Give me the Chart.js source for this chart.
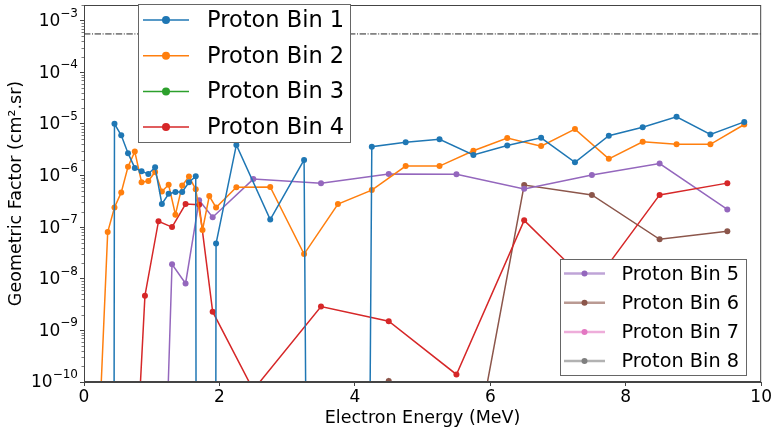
<!DOCTYPE html>
<html>
<head>
<meta charset="utf-8">
<script src="https://cdn.jsdelivr.net/npm/chart.js@4"></script>
<style>
  html, body { margin: 0; padding: 0; background: #fff; }
  canvas { display: block; }
</style>
</head>
<body>
<canvas id="chart" width="773" height="429"></canvas>
<script>
// values below this never show on the log axis (they stand in for zero)
const ZERO = 1e-100;

// bins 1-3 are sampled on the 0.1 / 0.5 MeV grid
const energyA = [0.05, 0.15, 0.25, 0.35, 0.45, 0.55, 0.65, 0.75, 0.85, 0.95,
  1.05, 1.15, 1.25, 1.35, 1.45, 1.55, 1.65, 1.75, 1.85, 1.95,
  2.25, 2.75, 3.25, 3.75, 4.25, 4.75, 5.25, 5.75, 6.25, 6.75, 7.25, 7.75, 8.25, 8.75, 9.25, 9.75];
// bins 4-8 are sampled on the 0.2 / 1 MeV grid
const energyB = [0.1, 0.3, 0.5, 0.7, 0.9, 1.1, 1.3, 1.5, 1.7, 1.9,
  2.5, 3.5, 4.5, 5.5, 6.5, 7.5, 8.5, 9.5];

const bin1 = [ZERO, ZERO, ZERO, ZERO, 1.0e-5, 6.0e-6, 2.7e-6, 1.4e-6, 1.2e-6, 1.07e-6,
  1.44e-6, 2.8e-7, 4.4e-7, 4.8e-7, 4.8e-7, 7.4e-7, 9.6e-7, ZERO, ZERO, 4.8e-8,
  3.9e-6, 1.4e-7, 2.0e-6, ZERO, 3.6e-6, 4.4e-6, 5.0e-6, 2.5e-6, 3.8e-6, 5.35e-6,
  1.8e-6, 5.9e-6, 8.6e-6, 1.37e-5, 6.2e-6, 1.09e-5];
const bin2 = [ZERO, ZERO, 7e-11, 8.0e-8, 2.4e-7, 4.7e-7, 1.47e-6, 2.9e-6, 7.4e-7, 7.8e-7,
  1.17e-6, 4.9e-7, 6.6e-7, 1.74e-7, 6.4e-7, 9.5e-7, 5.4e-7, 8.8e-8, 4.0e-7, 2.4e-7,
  5.9e-7, 6.0e-7, 3.0e-8, 2.8e-7, 5.2e-7, 1.52e-6, 1.52e-6, 3.0e-6, 5.3e-6, 3.7e-6,
  7.9e-6, 2.1e-6, 4.5e-6, 4.0e-6, 4.0e-6, 9.7e-6];
const bin3 = energyA.map(() => ZERO);
const bin4 = [ZERO, ZERO, ZERO, 4e-14, 4.7e-9, 1.3e-7, 1.0e-7, 2.8e-7, 2.7e-7, 2.3e-9,
  7e-11, 2.9e-9, 1.5e-9, 1.4e-10, 1.35e-7, 7e-9, 4.2e-7, 7.1e-7];
const bin5 = [ZERO, ZERO, ZERO, ZERO, ZERO, 1e-16, 1.9e-8, 8.1e-9, 3.3e-7, 1.55e-7,
  8.5e-7, 7.1e-7, 1.07e-6, 1.06e-6, 5.5e-7, 1.02e-6, 1.7e-6, 2.2e-7];
const bin6 = [ZERO, ZERO, ZERO, ZERO, ZERO, ZERO, ZERO, ZERO, ZERO, ZERO,
  ZERO, ZERO, 1.05e-10, 6e-14, 6.5e-7, 4.2e-7, 5.8e-8, 8.3e-8];
const bin7 = energyB.map(() => ZERO);
const bin8 = energyB.map(() => ZERO);

const binLabels = ['Proton Bin 1', 'Proton Bin 2', 'Proton Bin 3', 'Proton Bin 4',
  'Proton Bin 5', 'Proton Bin 6', 'Proton Bin 7', 'Proton Bin 8'];
const binColors = ['#1f77b4', '#ff7f0e', '#2ca02c', '#d62728',
  '#9467bd', '#8c564b', '#e377c2', '#7f7f7f'];

const limitValue = 5.5e-4;
const xTicks = [0, 2, 4, 6, 8, 10];
const yTicks = [1e-10, 1e-9, 1e-8, 1e-7, 1e-6, 1e-5, 1e-4, 1e-3];
const yExponents = ['−10', '−9', '−8', '−7', '−6', '−5', '−4', '−3'];

const toPoints = (xs, ys) => xs.map((x, i) => ({ x: x, y: ys[i] }));

const series = [
  [energyA, bin1], [energyA, bin2], [energyA, bin3], [energyB, bin4],
  [energyB, bin5], [energyB, bin6], [energyB, bin7], [energyB, bin8]
];

const datasets = series.map(([xs, ys], i) => ({
  label: binLabels[i],
  data: toPoints(xs, ys),
  borderColor: binColors[i],
  backgroundColor: binColors[i],
  borderWidth: 1.5,
  pointRadius: 3,
  pointBorderWidth: 0,
  pointHoverRadius: 3,
  tension: 0
}));

datasets.push({
  label: 'limit',
  data: [{ x: 0, y: limitValue }, { x: 10, y: limitValue }],
  borderColor: '#222',
  borderWidth: 1,
  borderDash: [6.4, 1.6, 1, 1.6],
  pointRadius: 0
});

const FONT = 'DejaVu Sans';

// frame, minor ticks and the 10^n labels
const axesExtras = {
  id: 'axesExtras',
  afterDatasetsDraw(chart) {
    const { ctx, chartArea: a } = chart;
    const y = chart.scales.y;
    ctx.save();
    ctx.strokeStyle = '#444';
    ctx.lineWidth = 1;
    ctx.strokeRect(a.left + 0.5, a.top + 0.5, a.right - a.left - 1, a.bottom - a.top - 1);

    ctx.beginPath();
    for (let d = -10; d <= -3; d++) {
      for (let k = 2; k <= 9; k++) {
        const v = k * Math.pow(10, d);
        if (v > y.max) continue;
        const py = Math.round(y.getPixelForValue(v)) + 0.5;
        ctx.moveTo(a.left - 2.5, py);
        ctx.lineTo(a.left, py);
      }
    }
    ctx.lineWidth = 0.7;
    ctx.stroke();

    ctx.fillStyle = '#000';
    ctx.textBaseline = 'middle';
    yTicks.forEach((v, i) => {
      const py = y.getPixelForValue(v);
      ctx.font = '12px "' + FONT + '"';
      const ew = ctx.measureText(yExponents[i]).width;
      const right = a.left - 6;
      ctx.textAlign = 'right';
      ctx.fillText(yExponents[i], right, py - 7);
      ctx.font = '17px "' + FONT + '"';
      ctx.fillText('10', right - ew, py + 1);
    });
    ctx.restore();
  }
};

function drawLegend(ctx, items, box, opts) {
  ctx.save();
  ctx.fillStyle = '#fff';
  ctx.fillRect(box.x, box.y, box.w, box.h);
  ctx.strokeStyle = '#666';
  ctx.lineWidth = 1;
  ctx.strokeRect(box.x + 0.5, box.y + 0.5, box.w - 1, box.h - 1);
  ctx.font = opts.size + 'px "' + FONT + '"';
  ctx.textBaseline = 'middle';
  ctx.textAlign = 'left';
  items.forEach((idx, r) => {
    const cy = opts.firstRow + r * opts.rowGap;
    ctx.strokeStyle = binColors[idx];
    ctx.globalAlpha = opts.alpha;
    ctx.lineWidth = opts.lineWidth;
    ctx.beginPath();
    ctx.moveTo(opts.handleX0, cy);
    ctx.lineTo(opts.handleX1, cy);
    ctx.stroke();
    ctx.globalAlpha = 1;
    ctx.fillStyle = binColors[idx];
    ctx.beginPath();
    ctx.arc((opts.handleX0 + opts.handleX1) / 2, cy, opts.marker, 0, Math.PI * 2);
    ctx.fill();
    ctx.fillStyle = '#000';
    ctx.fillText(binLabels[idx], opts.textX, cy + 1);
  });
  ctx.restore();
}

const legends = {
  id: 'legends',
  afterDraw(chart) {
    const ctx = chart.ctx;
    drawLegend(ctx, [0, 1, 2, 3], { x: 138, y: 4, w: 213, h: 139 },
      { size: 22.5, firstRow: 20, rowGap: 35.7, handleX0: 143, handleX1: 189,
        textX: 207, marker: 4, lineWidth: 1.5, alpha: 1 });
    drawLegend(ctx, [4, 5, 6, 7], { x: 560, y: 259, w: 187, h: 117 },
      { size: 19.3, firstRow: 273.5, rowGap: 29.2, handleX0: 564, handleX1: 605,
        textX: 621.5, marker: 3, lineWidth: 2.5, alpha: 0.6 });
  }
};

new Chart(document.getElementById('chart'), {
  type: 'line',
  data: { datasets: datasets },
  plugins: [axesExtras, legends],
  options: {
    responsive: false,
    animation: false,
    devicePixelRatio: 1,
    layout: { padding: { left: 0, top: 5, right: 11, bottom: 0 } },
    plugins: {
      legend: { display: false },
      tooltip: { enabled: false }
    },
    scales: {
      x: {
        type: 'linear',
        min: 0,
        max: 10,
        afterBuildTicks: (scale) => { scale.ticks = xTicks.map(v => ({ value: v })); },
        afterFit: (scale) => { scale.height = 47; },
        ticks: { font: { family: FONT, size: 17 }, color: '#000', padding: 1, maxRotation: 0 },
        grid: { drawOnChartArea: false, tickLength: 4, color: '#444' },
        border: { color: '#444' },
        title: {
          display: true,
          text: 'Electron Energy (MeV)',
          font: { family: FONT, size: 17.5 },
          color: '#000',
          padding: { top: 0, bottom: 0 }
        }
      },
      y: {
        type: 'logarithmic',
        min: 1e-10,
        max: 2e-3,
        afterBuildTicks: (scale) => { scale.ticks = yTicks.map(v => ({ value: v })); },
        afterFit: (scale) => { scale.width = 84; },
        ticks: { callback: () => '', font: { family: FONT, size: 1 } },
        grid: { drawOnChartArea: false, tickLength: 4, color: '#444' },
        border: { color: '#444' },
        title: {
          display: true,
          text: 'Geometric Factor (cm².sr)',
          font: { family: FONT, size: 17.5 },
          color: '#000',
          padding: { top: 6, bottom: 0 }
        }
      }
    }
  }
});
</script>
</body>
</html>
